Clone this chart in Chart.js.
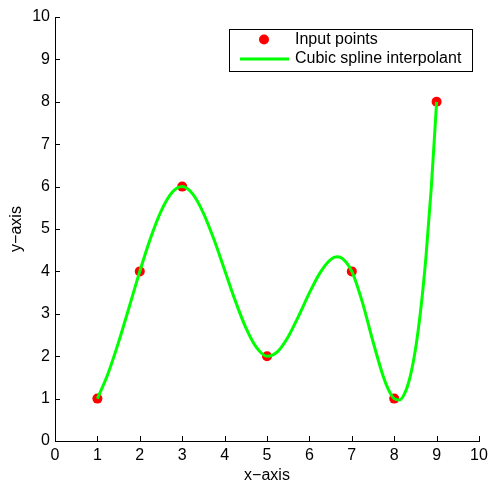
<!DOCTYPE html>
<html>
<head>
<meta charset="utf-8">
<script src="https://cdn.jsdelivr.net/npm/chart.js@4.4.1/dist/chart.umd.min.js"></script>
<style>
    html, body { margin: 0; padding: 0; background: #fff; }
</style>
</head>
<body>
<canvas id="chart" width="491" height="487"></canvas>
<script>
// Input points
const inputX = [1, 2, 3, 5, 7, 8, 9];
const inputY = [1, 4, 6, 2, 4, 1, 8];

// Spline curve
const splineX = [1, 1.25, 1.5, 1.75, 2, 2.25, 2.5, 2.75, 3, 3.25, 3.5, 3.75, 4, 4.25, 4.5, 4.75,
    5, 5.25, 5.5, 5.75, 6, 6.25, 6.5, 6.65, 6.75, 7, 7.25, 7.5, 7.75, 7.875,
    8, 8.125, 8.25, 8.375, 8.5, 8.625, 8.75, 8.875, 9];
const splineY = [1, 1.588, 2.332, 3.161, 4, 4.777, 5.418, 5.85, 6, 5.822, 5.376, 4.751, 4.033, 3.312, 2.674, 2.207,
    2, 2.108, 2.46, 2.956, 3.492, 3.966, 4.277, 4.343, 4.322, 4, 3.27, 2.345, 1.497, 1.187,
    1, 0.969, 1.128, 1.512, 2.155, 3.091, 4.355, 5.979, 8];

const axisTicks = [0, 1, 2, 3, 4, 5, 6, 7, 8, 9, 10];

const fontFamily = '"Liberation Sans", Arial, Helvetica, sans-serif';
const red = '#ff0000';
const green = '#00ff00';

// MATLAB style ticks pointing into the plot
const inwardTicks = {
    id: 'inwardTicks',
    afterDraw(chart) {
        const { ctx, chartArea, scales } = chart;
        ctx.save();
        ctx.strokeStyle = '#000';
        ctx.lineWidth = 1;
        ctx.beginPath();
        axisTicks.forEach(v => {
            const px = Math.round(scales.x.getPixelForValue(v)) + 0.5;
            ctx.moveTo(px, chartArea.bottom);
            ctx.lineTo(px, chartArea.bottom - 5);
            const py = Math.round(scales.y.getPixelForValue(v)) + 0.5;
            ctx.moveTo(chartArea.left, py);
            ctx.lineTo(chartArea.left + 5, py);
        });
        ctx.stroke();
        ctx.restore();
    }
};

// Boxed legend in the top right corner
const boxLegend = {
    id: 'boxLegend',
    afterDraw(chart) {
        const { ctx, chartArea } = chart;
        const ds = chart.data.datasets;
        const right = chartArea.right - 7;
        const top = chartArea.top + 12;
        const w = 243, h = 42;
        const left = right - w;
        ctx.save();
        ctx.fillStyle = '#fff';
        ctx.fillRect(left, top, w, h);
        ctx.strokeStyle = '#000';
        ctx.lineWidth = 1;
        ctx.strokeRect(Math.round(left) + 0.5, Math.round(top) + 0.5, w, h);

        const row1 = top + 10.5, row2 = top + 30;
        ctx.fillStyle = ds[1].backgroundColor;
        ctx.beginPath();
        ctx.arc(left + 35, row1, 5, 0, Math.PI * 2);
        ctx.fill();

        ctx.strokeStyle = ds[0].borderColor;
        ctx.lineWidth = 3;
        ctx.beginPath();
        ctx.moveTo(left + 11, row2);
        ctx.lineTo(left + 60, row2);
        ctx.stroke();

        ctx.fillStyle = '#000';
        ctx.font = '16px ' + fontFamily;
        ctx.textBaseline = 'middle';
        ctx.textAlign = 'left';
        ctx.fillText(ds[1].label, left + 66, row1);
        ctx.fillText(ds[0].label, left + 66, row2);
        ctx.restore();
    }
};

const scaleBase = {
    type: 'linear',
    min: 0,
    max: 10,
    grid: { display: false, drawTicks: false },
    border: { display: true, color: '#000', width: 1 },
    ticks: {
        stepSize: 1,
        color: '#000',
        font: { family: fontFamily, size: 16 },
        padding: 5
    }
};

new Chart(document.getElementById('chart'), {
    type: 'scatter',
    data: {
        datasets: [
            {
                label: 'Cubic spline interpolant',
                data: splineX.map((x, i) => ({ x, y: splineY[i] })),
                showLine: true,
                borderColor: green,
                borderWidth: 3,
                pointRadius: 0,
                cubicInterpolationMode: 'monotone',
                order: 0
            },
            {
                label: 'Input points',
                data: inputX.map((x, i) => ({ x, y: inputY[i] })),
                backgroundColor: red,
                borderWidth: 0,
                pointRadius: 5,
                order: 1
            }
        ]
    },
    options: {
        responsive: false,
        animation: false,
        layout: { padding: { top: 17, right: 12, left: 0, bottom: 0 } },
        plugins: {
            legend: { display: false },
            tooltip: { enabled: false }
        },
        scales: {
            x: {
                ...scaleBase,
                afterFit: (s) => { s.height = 46; s.paddingRight = 0; s.paddingLeft = 0; },
                title: {
                    display: true,
                    text: 'x\u2212axis',
                    color: '#000',
                    font: { family: fontFamily, size: 16 },
                    padding: { top: 0, bottom: 2 }
                }
            },
            y: {
                ...scaleBase,
                afterFit: (s) => { s.width = 55; s.paddingTop = 0; s.paddingBottom = 0; },
                title: {
                    display: true,
                    text: 'y\u2212axis',
                    color: '#000',
                    font: { family: fontFamily, size: 16 },
                    padding: { top: 7, bottom: 0 }
                }
            }
        }
    },
    plugins: [inwardTicks, boxLegend]
});
</script>
</body>
</html>
